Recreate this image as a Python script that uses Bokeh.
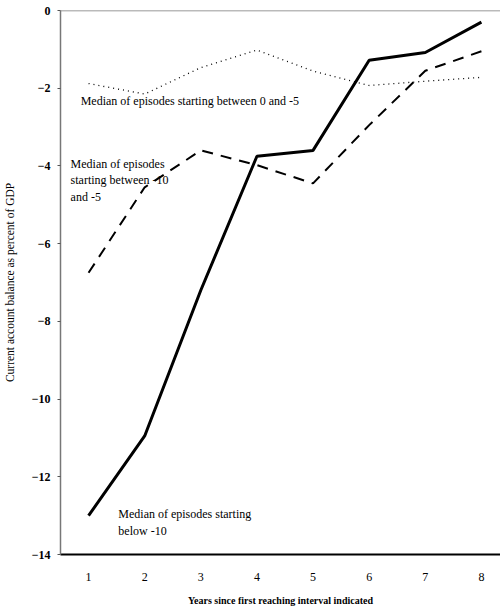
from bokeh.plotting import figure
from bokeh.models import Label, Span, FixedTicker, Range1d
from bokeh.embed import file_html
from bokeh.resources import INLINE

years = [1, 2, 3, 4, 5, 6, 7, 8]
below_minus10 = [-13.0, -10.95, -7.2, -3.75, -3.6, -1.28, -1.08, -0.3]
between_minus10_minus5 = [-6.75, -4.55, -3.6, -3.98, -4.45, -2.95, -1.55, -1.05]
between_0_minus5 = [-1.88, -2.15, -1.47, -1.02, -1.56, -1.93, -1.82, -1.72]
y_ticks = [0, -2, -4, -6, -8, -10, -12, -14]
x_ticks = [1, 2, 3, 4, 5, 6, 7, 8]

FONT = "Liberation Serif"

p = figure(width=500, height=611, output_backend="svg", toolbar_location=None,
           x_range=Range1d(0.5, 8.34), y_range=Range1d(-14, 0),
           min_border_left=58, min_border_right=0, min_border_top=10, min_border_bottom=57)
p.outline_line_color = None
p.grid.visible = False
p.background_fill_color = "white"
p.border_fill_color = "white"

p.line(years, below_minus10, line_color="black", line_width=3)
p.line(years, between_minus10_minus5, line_color="black", line_width=2, line_dash="11 8")
p.line(years, between_0_minus5, line_color="black", line_width=1.3, line_dash="1 4")

p.add_layout(Span(location=0, dimension="width", line_color="#777777", line_width=1.5))

# y axis
p.yaxis.ticker = FixedTicker(ticks=y_ticks)
p.yaxis.axis_line_color = "#777777"
p.yaxis.axis_line_width = 1.5
p.yaxis.major_tick_out = 3
p.yaxis.major_tick_in = 0
p.yaxis.major_tick_line_color = "#555555"
p.yaxis.minor_tick_line_color = None
p.yaxis.major_label_standoff = 7
p.yaxis.major_label_text_font = FONT
p.yaxis.major_label_text_font_style = "bold"
p.yaxis.major_label_text_font_size = "12px"
p.yaxis.major_label_text_color = "black"
p.yaxis.axis_label = "Current account balance as percent of GDP"
p.yaxis.axis_label_text_font = FONT
p.yaxis.axis_label_text_font_style = "normal"
p.yaxis.axis_label_text_font_size = "11.5px"
p.yaxis.axis_label_text_color = "black"
p.yaxis.axis_label_standoff = 13

# x axis
p.xaxis.ticker = FixedTicker(ticks=x_ticks)
p.xaxis.axis_line_color = "black"
p.xaxis.axis_line_width = 2
p.xaxis.major_tick_line_color = None
p.xaxis.minor_tick_line_color = None
p.xaxis.major_label_standoff = 12
p.xaxis.major_label_text_font = FONT
p.xaxis.major_label_text_font_size = "12px"
p.xaxis.major_label_text_color = "black"
p.xaxis.axis_label = "Years since first reaching interval indicated"
p.xaxis.axis_label_text_font = FONT
p.xaxis.axis_label_text_font_style = "bold"
p.xaxis.axis_label_text_font_size = "10px"
p.xaxis.axis_label_text_color = "black"
p.xaxis.axis_label_standoff = 11

def add_label(x, y, text):
    p.add_layout(Label(x=x, y=y, text=text, text_font=FONT, text_font_size="12px",
                       text_color="black", text_baseline="middle", text_align="left",
                       text_line_height=1.2))

add_label(0.86, -2.34, "Median of episodes starting between 0 and -5")
add_label(0.68, -4.37, "Median of episodes\nstarting between -10\nand -5")
add_label(1.53, -13.18, "Median of episodes starting\nbelow -10")

open("out.html", "w").write(file_html(p, INLINE))
